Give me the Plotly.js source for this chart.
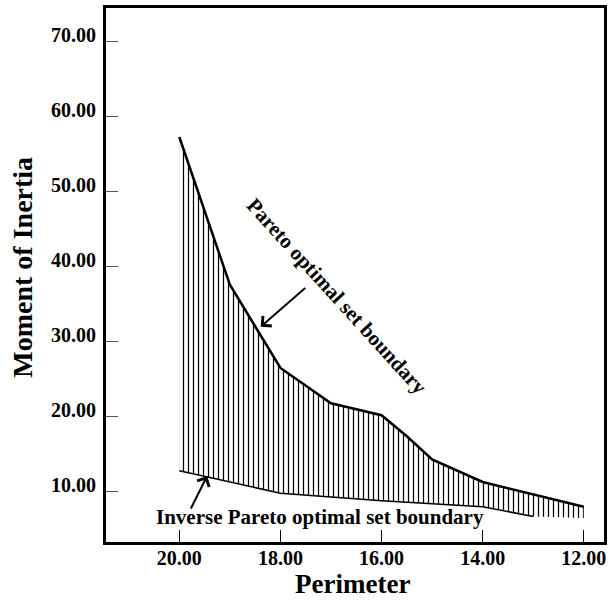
<!DOCTYPE html>
<html>
<head>
<meta charset="utf-8">
<script src="https://cdn.plot.ly/plotly-3.0.1.min.js"></script>
<style>html,body{margin:0;padding:0;background:#fff;}#chart{width:611px;height:601px;}</style>
</head>
<body>
<div id="chart"></div>
<script>
// Pareto optimal set boundary (upper curve)
const paretoX = [20, 19, 18, 17, 16, 15.5, 15, 14, 12];
const paretoY = [57.2, 37.5, 26.4, 21.7, 20.1, 17.3, 14.2, 11.2, 7.9];
// Inverse Pareto optimal set boundary (lower curve)
const inverseX = [20, 18, 16, 14, 13];
const inverseY = [12.7, 9.7, 8.7, 7.9, 6.6];
// bottom edge of the hatched region
const hatchX = [20, 18, 16, 14, 13, 12];
const hatchY = [12.7, 9.7, 8.7, 7.9, 6.6, 6.4];
const xTicks = [20, 18, 16, 14, 12];
const xTickText = ['20.00', '18.00', '16.00', '14.00', '12.00'];
const yTicks = [10, 20, 30, 40, 50, 60, 70];
const yTickText = ['10.00', '20.00', '30.00', '40.00', '50.00', '60.00', '70.00'];

const FONT = 'Liberation Serif, Times New Roman, serif';

const traces = [
  {x: hatchX, y: hatchY, mode: 'lines', line: {width: 0, color: 'rgba(0,0,0,0)'}, hoverinfo: 'skip', showlegend: false},
  {x: paretoX, y: paretoY, mode: 'lines', line: {color: '#000', width: 2.5}, fill: 'tonexty',
   fillcolor: 'rgba(0,0,0,0)',
   fillpattern: {shape: '|', size: 5, solidity: 0.25, fgcolor: '#000', bgcolor: 'rgba(0,0,0,0)'},
   showlegend: false},
  {x: inverseX, y: inverseY, mode: 'lines', line: {color: '#000', width: 1.5}, showlegend: false}
];

const layout = {
  width: 611, height: 601,
  margin: {l: 106, r: 7, t: 8, b: 59},
  paper_bgcolor: '#fff', plot_bgcolor: '#fff',
  showlegend: false,
  font: {family: FONT, color: '#000'},
  xaxis: {
    range: [21.45, 11.6], tickvals: xTicks, ticktext: xTickText,
    ticks: 'inside', ticklen: 12, tickwidth: 1, tickcolor: '#000',
    showline: true, linewidth: 3, linecolor: '#000', mirror: true,
    showgrid: false, zeroline: false,
    tickfont: {family: FONT, size: 20, weight: 'bold'},
    ticklabelstandoff: -4
  },
  yaxis: {
    range: [3.2, 74.4], tickvals: yTicks, ticktext: yTickText,
    ticks: 'inside', ticklen: 12, tickwidth: 1, tickcolor: '#555',
    showline: true, linewidth: 3, linecolor: '#000', mirror: true,
    showgrid: false, zeroline: false,
    tickfont: {family: FONT, size: 20, weight: 'bold'},
    ticklabelshift: -6,
    ticklabelstandoff: 3
  },
  annotations: [
    {xref: 'paper', yref: 'paper', x: 0.4955, y: -0.0785, text: 'Perimeter',
     showarrow: false, font: {family: FONT, size: 27, weight: 'bold'}, xanchor: 'center', yanchor: 'middle'},
    {xref: 'paper', yref: 'paper', x: -0.1667, y: 0.5155, text: 'Moment of Inertia', textangle: -90,
     showarrow: false, font: {family: FONT, size: 28, weight: 'bold'}, xanchor: 'center', yanchor: 'middle'},
    {x: 16.89, y: 36.0, text: 'Pareto optimal set boundary', textangle: 47.7, showarrow: false,
     font: {family: FONT, size: 21, weight: 'bold'}},
    {x: 18.39, y: 31.9, ax: 46, ay: -40, text: '', showarrow: true, arrowhead: 4, arrowsize: 1.3,
     arrowwidth: 2, arrowcolor: '#000'},
    {x: 17.225, y: 6.57, text: 'Inverse Pareto optimal set boundary', showarrow: false,
     font: {family: FONT, size: 21, weight: 'bold'}},
    {x: 19.45, y: 12.0, ax: -17, ay: 34, text: '', showarrow: true, arrowhead: 4, arrowsize: 1.3,
     arrowwidth: 2, arrowcolor: '#000'}
  ]
};

Plotly.newPlot('chart', traces, layout, {displayModeBar: false, staticPlot: true});
</script>
</body>
</html>
